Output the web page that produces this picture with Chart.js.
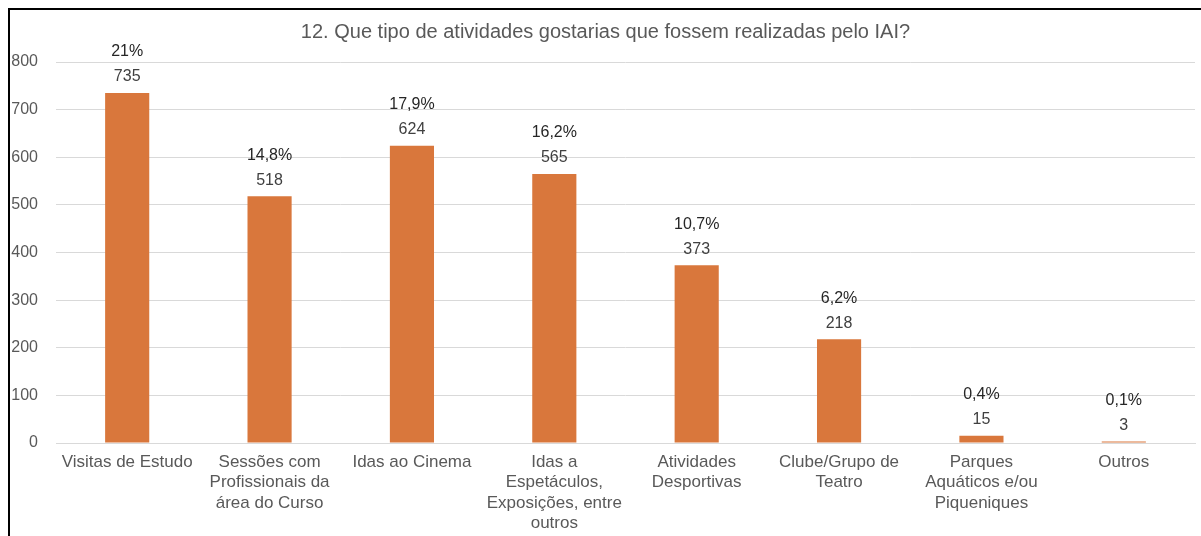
<!DOCTYPE html>
<html>
<head>
<meta charset="utf-8">
<script src="https://cdn.jsdelivr.net/npm/chart.js@4.4.1/dist/chart.umd.min.js"></script>
<style>
  html, body { margin: 0; padding: 0; background: #fff; }
  #wrap { position: relative; width: 1201px; height: 536px; }
  canvas { display: block; }
</style>
</head>
<body>
<div id="wrap"><canvas id="c" width="1201" height="536"></canvas></div>
<script>
const titleText = '12. Que tipo de atividades gostarias que fossem realizadas pelo IAI?';
const categories = [
  ['Visitas de Estudo'],
  ['Sessões com', 'Profissionais da', 'área do Curso'],
  ['Idas ao Cinema'],
  ['Idas a', 'Espetáculos,', 'Exposições, entre', 'outros'],
  ['Atividades', 'Desportivas'],
  ['Clube/Grupo de', 'Teatro'],
  ['Parques', 'Aquáticos e/ou', 'Piqueniques'],
  ['Outros']
];
const values = [735, 518, 624, 565, 373, 218, 15, 3];
const percentages = ['21%', '14,8%', '17,9%', '16,2%', '10,7%', '6,2%', '0,4%', '0,1%'];
const yTicks = [0, 100, 200, 300, 400, 500, 600, 700, 800];

const FONT = "'Liberation Sans', Arial, Helvetica, sans-serif";

const frame = {
  id: 'frame',
  afterDraw(chart) {
    const ctx = chart.ctx;
    ctx.save();
    ctx.fillStyle = '#000';
    ctx.fillRect(8, 8, 1201 - 8, 2);
    ctx.fillRect(8, 8, 2, 536 - 8);
    ctx.font = '20px ' + FONT;
    ctx.fillStyle = '#595959';
    ctx.textAlign = 'center';
    ctx.textBaseline = 'middle';
    ctx.fillText(titleText, 605.5, 32);
    ctx.restore();
  }
};

const barLabels = {
  id: 'barLabels',
  afterDatasetsDraw(chart) {
    const ctx = chart.ctx;
    const meta = chart.getDatasetMeta(0);
    ctx.save();
    ctx.textAlign = 'center';
    ctx.textBaseline = 'middle';
    meta.data.forEach((bar, i) => {
      const x = bar.x;
      const top = bar.y;
      ctx.font = '16px ' + FONT;
      ctx.fillStyle = '#404040';
      ctx.fillText(String(values[i]), x, top - 16);
      ctx.fillStyle = '#262626';
      ctx.fillText(percentages[i], x, top - 41);
    });
    ctx.restore();
  }
};

new Chart(document.getElementById('c'), {
  type: 'bar',
  data: {
    labels: categories,
    datasets: [{
      data: values,
      backgroundColor: '#D9773C',
      borderWidth: 0,
      barPercentage: 0.31,
      categoryPercentage: 1.0
    }]
  },
  options: {
    responsive: false,
    animation: false,
    devicePixelRatio: 1,
    layout: { padding: { left: 0, right: 6, top: 62, bottom: 0 } },
    plugins: {
      legend: { display: false },
      tooltip: { enabled: false },
      title: { display: false }
    },
    scales: {
      x: {
        grid: { display: false, drawTicks: false },
        border: { display: true, color: '#d9d9d9', width: 1 },
        ticks: {
          color: '#595959',
          font: { family: FONT, size: 17, lineHeight: 1.2 },
          padding: 9,
          maxRotation: 0,
          minRotation: 0,
          autoSkip: false
        },
        afterFit(scale) { scale.height = 93; }
      },
      y: {
        min: 0,
        max: 800,
        afterBuildTicks(scale) { scale.ticks = yTicks.map(v => ({ value: v })); },
        grid: { color: '#d9d9d9', lineWidth: 1, drawTicks: false },
        border: { display: false },
        ticks: {
          color: '#595959',
          font: { family: FONT, size: 16 },
          padding: 18
        },
        afterFit(scale) { scale.width = 56; }
      }
    }
  },
  plugins: [frame, barLabels]
});
</script>
</body>
</html>
